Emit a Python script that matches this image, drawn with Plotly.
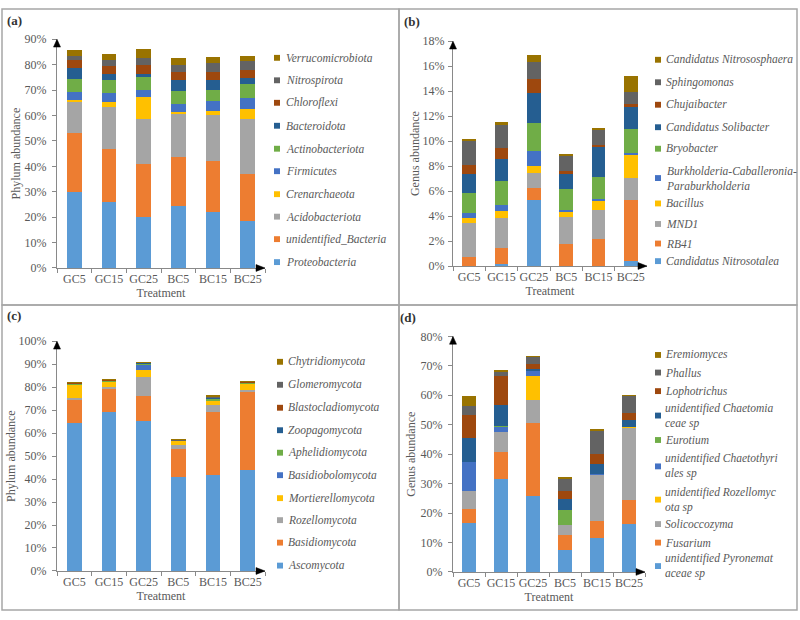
import plotly.graph_objects as go

# ---------------- DATA ----------------
treatments = ["GC5", "GC15", "GC25", "BC5", "BC15", "BC25"]

# (a) bacterial phyla, bottom -> top
a_names = ["Proteobacteria", "unidentified_Bacteria", "Acidobacteriota", "Crenarchaeota",
           "Firmicutes", "Actinobacteriota", "Bacteroidota", "Chloroflexi",
           "Nitrospirota", "Verrucomicrobiota"]
a_values = [
    [29.8, 26.0, 19.9, 24.4, 22.1, 18.5],   # Proteobacteria
    [23.3, 20.7, 21.2, 19.2, 19.9, 18.5],   # unidentified_Bacteria
    [12.2, 16.8, 17.4, 16.9, 18.2, 21.5],   # Acidobacteriota
    [0.9, 1.7, 8.9, 0.9, 1.5, 4.2],         # Crenarchaeota
    [3.0, 3.8, 2.7, 3.3, 4.1, 4.3],         # Firmicutes
    [5.1, 4.9, 4.9, 5.0, 4.1, 5.2],         # Actinobacteriota
    [4.4, 2.6, 1.2, 4.3, 3.9, 2.5],         # Bacteroidota
    [3.0, 2.9, 3.5, 3.0, 3.2, 3.3],         # Chloroflexi
    [1.8, 2.6, 2.9, 2.8, 3.7, 3.5],         # Nitrospirota
    [2.2, 2.2, 3.5, 2.8, 2.2, 2.0],         # Verrucomicrobiota
]

# (b) bacterial genera, bottom -> top
b_names = ["Candidatus Nitrosotalea", "RB41", "MND1", "Bacillus",
           "Burkholderia-Caballeronia-<br>Paraburkholderia", "Bryobacter",
           "Candidatus Solibacter", "Chujaibacter", "Sphingomonas",
           "Candidatus Nitrososphaera"]
b_values = [
    [0.00, 0.13, 5.30, 0.00, 0.00, 0.42],   # Candidatus Nitrosotalea
    [0.70, 1.28, 0.91, 1.75, 2.19, 4.85],   # RB41
    [2.77, 2.45, 1.26, 2.17, 2.33, 1.78],   # MND1
    [0.37, 0.53, 0.55, 0.39, 0.65, 1.85],   # Bacillus
    [0.39, 0.52, 1.17, 0.15, 0.18, 0.13],   # Burkholderia-...
    [1.64, 1.93, 2.25, 1.73, 1.78, 1.94],   # Bryobacter
    [1.49, 1.75, 2.42, 1.20, 2.40, 1.82],   # Candidatus Solibacter
    [0.73, 0.84, 1.10, 0.23, 0.18, 0.16],   # Chujaibacter
    [1.94, 1.90, 1.41, 1.18, 1.18, 1.02],   # Sphingomonas
    [0.07, 0.21, 0.50, 0.13, 0.10, 1.23],   # Candidatus Nitrososphaera
]

# (c) fungal phyla, bottom -> top
c_names = ["Ascomycota", "Basidiomycota", "Rozellomycota", "Mortierellomycota",
           "Basidiobolomycota", "Aphelidiomycota", "Zoopagomycota",
           "Blastocladiomycota", "Glomeromycota", "Chytridiomycota"]
c_values = [
    [64.5, 69.4, 65.2, 40.7, 41.6, 43.8],   # Ascomycota
    [10.0, 9.7, 11.1, 12.5, 27.6, 33.9],    # Basidiomycota
    [1.0, 0.9, 8.2, 1.8, 2.9, 1.0],         # Rozellomycota
    [5.5, 2.3, 2.9, 1.5, 1.8, 2.6],         # Mortierellomycota
    [0.1, 0.1, 2.5, 0.05, 0.2, 0.1],        # Basidiobolomycota
    [0.3, 0.5, 0.2, 0.1, 1.0, 0.6],         # Aphelidiomycota
    [0.1, 0.1, 0.4, 0.05, 0.1, 0.1],        # Zoopagomycota
    [0.4, 0.1, 0.1, 0.1, 0.2, 0.1],         # Blastocladiomycota
    [0.1, 0.1, 0.1, 0.2, 0.6, 0.1],         # Glomeromycota
    [0.1, 0.1, 0.1, 0.3, 0.4, 0.1],         # Chytridiomycota
]

# (d) fungal genera, bottom -> top
d_names = ["unidentified Pyronemat<br>aceae sp", "Fusarium", "Solicoccozyma",
           "unidentified Rozellomyc<br>ota sp", "unidentified Chaetothyri<br>ales sp",
           "Eurotium", "unidentified Chaetomia<br>ceae sp", "Lophotrichus",
           "Phallus", "Eremiomyces"]
d_values = [
    [16.5, 31.4, 25.9, 7.6, 11.7, 16.2],    # unidentified Pyronemataceae sp
    [4.8, 9.3, 24.8, 4.9, 5.7, 8.1],        # Fusarium
    [6.1, 6.9, 7.8, 3.5, 15.7, 24.7],       # Solicoccozyma
    [0.0, 0.1, 8.1, 0.0, 0.0, 0.1],         # unidentified Rozellomycota sp
    [9.9, 1.6, 1.7, 0.1, 0.1, 0.1],         # unidentified Chaetothyriales sp
    [0.1, 0.1, 0.1, 5.0, 0.1, 0.1],         # Eurotium
    [8.0, 7.3, 0.6, 3.7, 3.4, 2.3],         # unidentified Chaetomiaceae sp
    [8.0, 9.9, 1.5, 2.6, 3.5, 2.3],         # Lophotrichus
    [2.8, 1.5, 2.5, 4.3, 7.8, 5.9],         # Phallus
    [3.5, 0.1, 0.1, 0.1, 0.1, 0.1],         # Eremiomyces
]

y_ranges = [90, 18, 100, 80]
y_titles = ["Phylum abundance", "Genus abundance", "Phylum abundance", "Genus abundance"]
x_title = "Treatment"
panel_labels = ["(a)", "(b)", "(c)", "(d)"]

# ---------------- STYLE / LAYOUT ----------------
colors = ["#5B9BD5", "#ED7D31", "#A5A5A5", "#FFC000", "#4472C4",
          "#70AD47", "#255E91", "#9E480E", "#636363", "#997300"]
W, H = 800, 620
FONT = "Liberation Serif, Times New Roman, serif"
TXT = "#595959"
AXC = "#898989"


def px(x):
    return x / W


def py(y):
    return 1 - y / H


panels = [
    dict(xd=(57, 265), yd=(33, 267), dtick=10, box=(2, 2, 399, 305), lab=(5, 14),
         mk_x=277, tx_x=284, tstand=3, ystand=1,
         leg_y=[52, 75, 98, 121.5, 145, 168, 191.5, 214.5, 237.5, 261]),
    dict(xd=(453, 647), yd=(35, 265), dtick=2, box=(399, 2, 797, 305), lab=(402, 15),
         mk_x=658, tx_x=664, tstand=1, ystand=0,
         leg_y=[54, 77, 100, 123, 145, 175, 201, 222, 242, 260]),
    dict(xd=(57, 265), yd=(342, 577), dtick=10, box=(2, 305, 399, 617), lab=(5, 316),
         mk_x=280, tx_x=286, tstand=3, ystand=0,
         leg_y=[363, 386.5, 410, 433, 456, 479, 502.5, 525, 548, 571.5]),
    dict(xd=(453, 645), yd=(337, 578), dtick=10, box=(399, 305, 797, 617), lab=(398, 318),
         mk_x=658, tx_x=663, tstand=3, ystand=2,
         leg_y=[356, 374, 393, 418, 443, 470, 504, 529, 548, 572]),
]

all_names = [a_names, b_names, c_names, d_names]
all_values = [a_values, b_values, c_values, d_values]

fig = go.Figure()
shapes = []
annotations = []

for i, (p, names, values) in enumerate(zip(panels, all_names, all_values)):
    n = i + 1
    xa = "x" if n == 1 else f"x{n}"
    ya = "y" if n == 1 else f"y{n}"
    for k, (name, vals) in enumerate(zip(names, values)):
        clean = name.replace("<br>", "")
        fig.add_trace(go.Bar(
            x=treatments, y=vals, name=clean,
            marker=dict(color=colors[k], line=dict(width=0)),
            xaxis=xa, yaxis=ya, showlegend=False,
            hovertemplate="%{x}: %{y}%<extra>" + clean + "</extra>",
        ))

    xdom = [px(p["xd"][0]), px(p["xd"][1])]
    ydom = [py(p["yd"][1]), py(p["yd"][0])]
    axis_font = dict(family=FONT, size=12, color=TXT)
    fig.update_layout(**{
        ("xaxis" if n == 1 else f"xaxis{n}"): dict(
            domain=xdom, anchor=ya, type="category", range=[-0.5, 5.5],
            showline=True, linecolor=AXC, linewidth=1, ticks="outside",
            tickson="boundaries", ticklen=4, tickcolor=AXC, showgrid=False,
            tickfont=axis_font, tickangle=0,
            title=dict(text=x_title, font=axis_font, standoff=1)),
        ("yaxis" if n == 1 else f"yaxis{n}"): dict(
            domain=ydom, anchor=xa, range=[0, y_ranges[i]], dtick=p["dtick"],
            ticksuffix="%", showline=True, linecolor=AXC, linewidth=1,
            ticks="outside", ticklen=4, tickcolor=AXC, showgrid=False,
            zeroline=False, tickfont=axis_font, ticklabelstandoff=p["tstand"],
            title=dict(text=y_titles[i], font=axis_font, standoff=p["ystand"])),
    })

    # panel border
    x0, y0, x1, y1 = p["box"]
    shapes.append(dict(type="rect", xref="paper", yref="paper",
                       x0=px(x0), x1=px(x1), y0=py(y1), y1=py(y0),
                       line=dict(color="#A6A6A6", width=1.5), fillcolor="rgba(0,0,0,0)",
                       layer="below"))
    # panel label
    annotations.append(dict(text="<b>" + panel_labels[i] + "</b>", xref="paper", yref="paper",
                            x=px(p["lab"][0]), y=py(p["lab"][1]), xanchor="left",
                            yanchor="middle", showarrow=False,
                            font=dict(family=FONT, size=13, color="#333333")))
    # axis arrows
    ax_x, ax_y0, ax_y1 = p["xd"][0], p["yd"][1], p["yd"][0]
    shapes.append(dict(type="path", xref="paper", yref="paper",
                       path=f"M {px(ax_x)} {py(ax_y1)} L {px(ax_x - 3.5)} {py(ax_y1 + 8)} "
                            f"L {px(ax_x + 3.5)} {py(ax_y1 + 8)} Z",
                       fillcolor="black", line=dict(color="black", width=0.5)))
    xe = p["xd"][1]
    shapes.append(dict(type="path", xref="paper", yref="paper",
                       path=f"M {px(xe)} {py(ax_y0)} L {px(xe - 9)} {py(ax_y0 - 3.5)} "
                            f"L {px(xe - 9)} {py(ax_y0 + 3.5)} Z",
                       fillcolor="black", line=dict(color="black", width=0.5)))

    # legend (top -> bottom = reversed stacking order)
    for k_rev, ypos in enumerate(p["leg_y"]):
        k = len(names) - 1 - k_rev
        shapes.append(dict(type="rect", xref="paper", yref="paper",
                           x0=px(p["mk_x"] - 3), x1=px(p["mk_x"] + 3),
                           y0=py(ypos + 3), y1=py(ypos - 3),
                           fillcolor=colors[k], line=dict(width=0)))
        annotations.append(dict(text=names[k], xref="paper", yref="paper",
                                x=px(p["tx_x"]), y=py(ypos), xanchor="left", align="left",
                                yanchor="middle", showarrow=False,
                                font=dict(family=FONT, size=11.5, color=TXT, style="italic")))

fig.update_layout(
    width=W, height=H, margin=dict(l=0, r=0, t=0, b=0),
    paper_bgcolor="white", plot_bgcolor="white",
    barmode="stack", bargap=0.58, showlegend=False,
    shapes=shapes, annotations=annotations,
    font=dict(family=FONT, color=TXT),
)

fig.write_html("out.html")
